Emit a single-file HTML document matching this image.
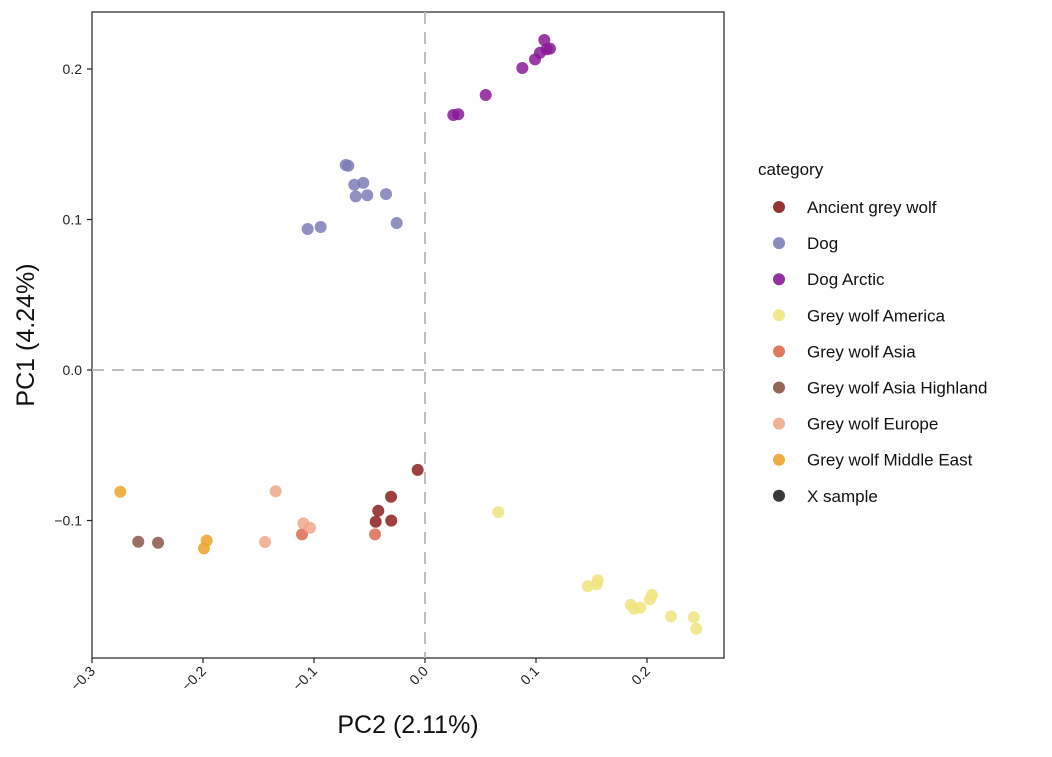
<!DOCTYPE html>
<html><head><meta charset="utf-8"><style>
body{margin:0;background:#fff;font-family:"Liberation Sans",Arial,sans-serif}
svg text{font-family:"Liberation Sans",Arial,sans-serif}
</style></head><body>
<svg id="chart" width="1052" height="752" xmlns="http://www.w3.org/2000/svg">
<rect x="92" y="12" width="632" height="646" fill="#fff" stroke="#222" stroke-width="1.2"/>
<g id="grid"></g><g id="pts"></g><g id="axes"></g><g id="legend"></g>
<text x="408" y="733" font-size="25" text-anchor="middle" fill="#111">PC2 (2.11%)</text>
<text transform="translate(34,335) rotate(-90)" font-size="25" text-anchor="middle" fill="#111">PC1 (4.24%)</text>
</svg>
<script>
const categories=["Ancient grey wolf","Dog","Dog Arctic","Grey wolf America","Grey wolf Asia","Grey wolf Asia Highland","Grey wolf Europe","Grey wolf Middle East","X sample"];
const colors=["#8b1e1e","#7c7db6","#8a1a98","#f0e47e","#de6a4f","#8b5549","#efa88a","#eda32a","#222222"];
const ancientX=[-0.0066,-0.0306,-0.0421,-0.0444,-0.0304];
const ancientY=[-0.0664,-0.0842,-0.0935,-0.1008,-0.1001];
const dogX=[-0.0714,-0.0691,-0.0556,-0.0637,-0.0624,-0.0520,-0.0351,-0.0255,-0.1057,-0.0940];
const dogY=[0.1362,0.1357,0.1243,0.1231,0.1154,0.1161,0.1169,0.0977,0.0937,0.0950];
const arcticX=[0.1075,0.1126,0.1096,0.1036,0.0991,0.0877,0.0547,0.0255,0.0300];
const arcticY=[0.2193,0.2135,0.2131,0.2108,0.2064,0.2007,0.1827,0.1694,0.1699];
const americaX=[0.0660,0.1466,0.1547,0.1556,0.1853,0.1883,0.1940,0.2027,0.2045,0.2216,0.2421,0.2444];
const americaY=[-0.0944,-0.1437,-0.1424,-0.1397,-0.1561,-0.1586,-0.1579,-0.1524,-0.1495,-0.1637,-0.1643,-0.1719];
const asiaX=[-0.1108,-0.0450];
const asiaY=[-0.1092,-0.1092];
const highlandX=[-0.2583,-0.2405];
const highlandY=[-0.1141,-0.1148];
const europeX=[-0.1345,-0.1441,-0.1096,-0.1036];
const europeY=[-0.0806,-0.1143,-0.1019,-0.1048];
const meX=[-0.2745,-0.1967,-0.1991];
const meY=[-0.0809,-0.1134,-0.1185];
const xTicks=[-0.3,-0.2,-0.1,0.0,0.1,0.2];
const xTickLabels=["−0.3","−0.2","−0.1","0.0","0.1","0.2"];
const yTicks=[-0.1,0.0,0.1,0.2];
const yTickLabels=["−0.1","0.0","0.1","0.2"];

const NS="http://www.w3.org/2000/svg";
const sx=v=>425+v*1110;
const sy=v=>370-v*1505;
function mk(tag,attrs,parent){const e=document.createElementNS(NS,tag);for(const k in attrs)e.setAttribute(k,attrs[k]);parent.appendChild(e);return e;}
const grid=document.getElementById('grid'),pts=document.getElementById('pts'),axes=document.getElementById('axes'),legend=document.getElementById('legend');
let l=mk('line',{x1:sx(0),x2:sx(0),y1:12,y2:658,stroke:'#bdbdbd','stroke-width':2,'stroke-dasharray':'12,8'},grid);


l=mk('line',{x1:92,x2:724,y1:sy(0),y2:sy(0),stroke:'#bdbdbd','stroke-width':2,'stroke-dasharray':'12,8'},grid);


const series=[[ancientX,ancientY,0],[dogX,dogY,1],[arcticX,arcticY,2],[americaX,americaY,3],[asiaX,asiaY,4],[highlandX,highlandY,5],[europeX,europeY,6],[meX,meY,7]];
series.forEach(([xs,ys,ci])=>{xs.forEach((x,i)=>{
 const c=mk('circle',{cx:sx(x),cy:sy(ys[i]),r:6,fill:colors[ci],'fill-opacity':0.85},pts);
 
 
});});
xTicks.forEach((t,i)=>{
 const x=sx(t);
 const tk=mk('line',{x1:x,x2:x,y1:658,y2:663,stroke:'#222','stroke-width':1.2},axes);
 
 
 const tx=mk('text',{transform:`translate(${x+4},${672}) rotate(-45)`,'font-size':14,'text-anchor':'end',fill:'#222'},axes);
 tx.textContent=xTickLabels[i];
 
 
});
yTicks.forEach((t,i)=>{
 const y=sy(t);
 const tk=mk('line',{x1:87,x2:92,y1:y,y2:y,stroke:'#222','stroke-width':1.2},axes);
 
 
 const tx=mk('text',{x:82,y:y+5,'font-size':14,'text-anchor':'end',fill:'#222'},axes);
 tx.textContent=yTickLabels[i];
 
 
});
const lt=mk('text',{x:758,y:175,'font-size':17,fill:'#111'},legend);
lt.textContent='category';


categories.forEach((c,i)=>{
 const y=207+i*36.1;
 const g=mk('g',{},legend);
 
 
 mk('circle',{cx:779,cy:y,r:6,fill:colors[i],'fill-opacity':0.9},g);
 const t=mk('text',{x:807,y:y+6,'font-size':17,fill:'#111'},g);
 t.textContent=c;
});
</script>
</body></html>
